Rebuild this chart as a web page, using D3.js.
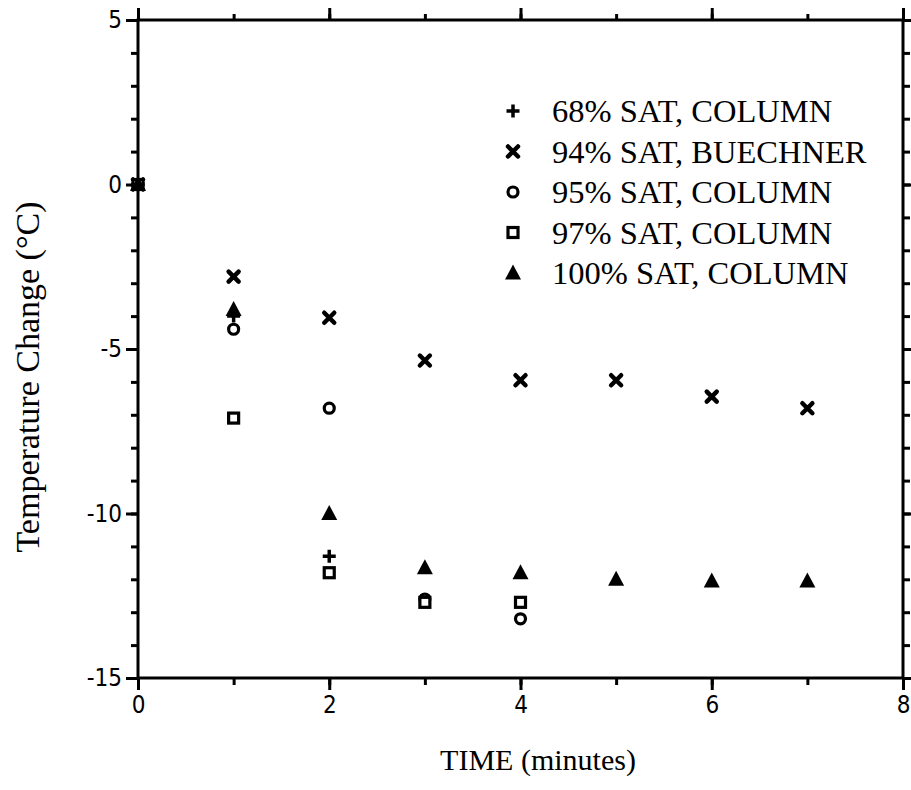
<!DOCTYPE html>
<html>
<head>
<meta charset="utf-8">
<script src="https://cdn.jsdelivr.net/npm/d3@7"></script>
<style>
  body { margin: 0; background: #fff; }
  svg { display: block; }
</style>
</head>
<body>
<svg id="chart" width="911" height="790"></svg>
<script>
// Temperature change over time for several saturation levels
const times = [0, 1, 2, 3, 4, 5, 6, 7];

const seriesNames = [
  "68% SAT, COLUMN",
  "94% SAT, BUECHNER",
  "95% SAT, COLUMN",
  "97% SAT, COLUMN",
  "100% SAT, COLUMN"
];
const seriesSymbols = ["plus", "cross", "circle", "square", "triangle"];

// values per series, aligned with `times` (null = not measured)
const sat68 = [0, -4.0, -11.3, null, null, null, null, null];
const sat94 = [0, -2.8, -4.05, -5.35, -5.95, -5.95, -6.45, -6.8];
const sat95 = [0, -4.4, -6.8, -12.6, -13.2, null, null, null];
const sat97 = [0, -7.1, -11.8, -12.7, -12.7, null, null, null];
const sat100 = [0, -3.8, -10.0, -11.65, -11.8, -12.0, -12.05, -12.05];

const xTicks = [0, 2, 4, 6, 8];
const yTicks = [-15, -10, -5, 0, 5];

const allSeries = [sat68, sat94, sat95, sat97, sat100];

const svg = d3.select("#chart");
const plotLeft = 138, plotRight = 903, plotTop = 20, plotBottom = 678;

const x = d3.scaleLinear().domain([0, 8]).range([plotLeft, plotRight]);
const y = d3.scaleLinear().domain([-15, 5]).range([plotBottom, plotTop]);

const ink = "#000";
const sansFont = "'DejaVu Sans Condensed', 'DejaVu Sans', sans-serif";
const serifFont = "'Liberation Serif', 'Times New Roman', serif";

// frame
svg.append("rect")
  .attr("x", plotLeft).attr("y", plotTop)
  .attr("width", plotRight - plotLeft).attr("height", plotBottom - plotTop)
  .attr("fill", "none").attr("stroke", ink).attr("stroke-width", 3);

const minorX = d3.range(0, 8.01, 1);
const minorY = d3.range(-15, 5.01, 1);
const plainNumber = d => String(d);

function styleAxis(g) {
  g.select(".domain").remove();
  g.selectAll("line").attr("stroke", ink).attr("stroke-width", 3);
  g.selectAll("text").attr("font-family", sansFont).attr("font-size", 24).attr("fill", ink);
}

// bottom axis: minor then major
svg.append("g").attr("transform", `translate(0,${plotBottom})`)
  .call(d3.axisBottom(x).tickValues(minorX).tickSize(7).tickFormat(""))
  .call(styleAxis);
svg.append("g").attr("transform", `translate(0,${plotBottom})`)
  .call(d3.axisBottom(x).tickValues(xTicks).tickSize(12).tickPadding(6).tickFormat(plainNumber))
  .call(styleAxis);

// top axis
svg.append("g").attr("transform", `translate(0,${plotTop})`)
  .call(d3.axisTop(x).tickValues(minorX).tickSize(6).tickFormat(""))
  .call(styleAxis);
svg.append("g").attr("transform", `translate(0,${plotTop})`)
  .call(d3.axisTop(x).tickValues(xTicks).tickSize(12).tickFormat(""))
  .call(styleAxis);

// left axis
svg.append("g").attr("transform", `translate(${plotLeft},0)`)
  .call(d3.axisLeft(y).tickValues(minorY).tickSize(7).tickFormat(""))
  .call(styleAxis);
svg.append("g").attr("transform", `translate(${plotLeft},0)`)
  .call(d3.axisLeft(y).tickValues(yTicks).tickSize(12).tickPadding(4).tickFormat(plainNumber))
  .call(styleAxis);

// right axis
svg.append("g").attr("transform", `translate(${plotRight},0)`)
  .call(d3.axisRight(y).tickValues(minorY).tickSize(7).tickFormat(""))
  .call(styleAxis);
svg.append("g").attr("transform", `translate(${plotRight},0)`)
  .call(d3.axisRight(y).tickValues(yTicks).tickSize(12).tickFormat(""))
  .call(styleAxis);

// axis titles
svg.append("text")
  .attr("x", 538).attr("y", 770)
  .attr("text-anchor", "middle")
  .attr("font-family", serifFont).attr("font-size", 30).attr("fill", ink)
  .text("TIME (minutes)");

svg.append("text")
  .attr("transform", `translate(39,377) rotate(-90)`)
  .attr("text-anchor", "middle")
  .attr("font-family", serifFont).attr("font-size", 34).attr("fill", ink)
  .text("Temperature Change (°C)");

// marker drawing
function drawMarker(g, kind) {
  switch (kind) {
    case "plus":
      g.append("path").attr("d", "M-6.5,0H6.5M0,-6.5V6.5")
        .attr("stroke", ink).attr("stroke-width", 3.5).attr("fill", "none");
      break;
    case "cross":
      g.append("path").attr("d", "M-5,-5L5,5M-5,5L5,-5")
        .attr("stroke", ink).attr("stroke-width", 4.5).attr("stroke-linecap", "round").attr("fill", "none");
      break;
    case "circle":
      g.append("circle").attr("r", 5)
        .attr("stroke", ink).attr("stroke-width", 3.2).attr("fill", "#fff");
      break;
    case "square":
      g.append("rect").attr("x", -5).attr("y", -5).attr("width", 10).attr("height", 10)
        .attr("stroke", ink).attr("stroke-width", 3.2).attr("fill", "#fff");
      break;
    case "triangle":
      g.append("path").attr("d", "M0,-8.5L8,6.5H-8Z").attr("fill", ink);
      break;
  }
}

// data points
allSeries.forEach((vals, si) => {
  const pts = times.map((t, i) => ({ t, v: vals[i] })).filter(d => d.v !== null);
  svg.append("g").attr("class", "series-" + si)
    .selectAll("g").data(pts).join("g")
    .attr("transform", d => `translate(${x(d.t)},${y(d.v)})`)
    .each(function () { drawMarker(d3.select(this), seriesSymbols[si]); });
});

// legend
const legend = svg.append("g");
seriesNames.forEach((name, i) => {
  const rowY = 111 + i * 40.5;
  const mg = legend.append("g").attr("transform", `translate(513,${rowY})`);
  drawMarker(mg, seriesSymbols[i]);
  legend.append("text")
    .attr("x", 552).attr("y", rowY + 11)
    .attr("font-family", serifFont).attr("font-size", 32.5).attr("fill", ink)
    .text(name);
});
</script>
</body>
</html>
